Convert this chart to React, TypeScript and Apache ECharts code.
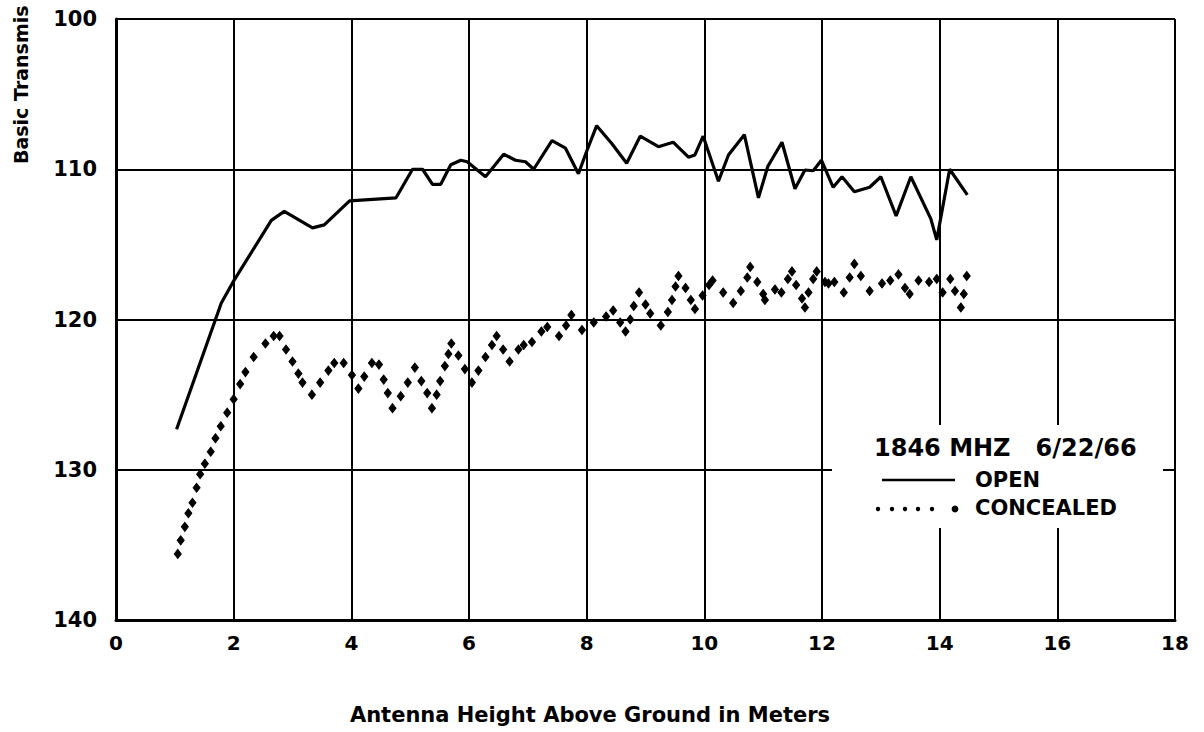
import React, { useEffect, useRef } from "react";
import * as echarts from "echarts";

const openHeight = [1.03, 1.79, 1.99, 2.64, 2.86, 3.34, 3.54, 3.97, 4.76, 5.04, 5.21, 5.38, 5.52, 5.69, 5.86, 5.97, 6.28, 6.59, 6.79, 6.96, 7.10, 7.41, 7.64, 7.86, 8.0, 8.17, 8.43, 8.68, 8.91, 9.22, 9.47, 9.73, 9.84, 9.98, 10.24, 10.41, 10.68, 10.92, 11.08, 11.32, 11.54, 11.71, 11.85, 11.99, 12.19, 12.34, 12.55, 12.81, 13.0, 13.26, 13.51, 13.85, 13.95, 14.17, 14.47];
const openLoss = [127.3, 118.9, 117.5, 113.4, 112.8, 113.9, 113.7, 112.1, 111.9, 110.0, 110.0, 111.0, 111.0, 109.7, 109.4, 109.5, 110.5, 109.0, 109.4, 109.5, 110.0, 108.1, 108.6, 110.3, 108.8, 107.1, 108.3, 109.6, 107.8, 108.5, 108.2, 109.2, 109.05, 107.8, 110.8, 109.05, 107.7, 111.9, 109.8, 108.2, 111.3, 110.05, 110.1, 109.4, 111.2, 110.5, 111.5, 111.2, 110.5, 113.1, 110.5, 113.3, 114.7, 110.0, 111.7];

const concealedHeight = [1.05, 1.10, 1.17, 1.23, 1.30, 1.37, 1.43, 1.51, 1.61, 1.69, 1.78, 1.89, 2.00, 2.11, 2.20, 2.34, 2.54, 2.68, 2.78, 2.89, 3.00, 3.10, 3.17, 3.33, 3.47, 3.61, 3.71, 3.87, 4.01, 4.12, 4.22, 4.35, 4.47, 4.55, 4.62, 4.70, 4.84, 4.96, 5.08, 5.19, 5.29, 5.37, 5.45, 5.51, 5.59, 5.65, 5.70, 5.82, 5.93, 6.05, 6.16, 6.28, 6.39, 6.47, 6.58, 6.69, 6.84, 6.93, 7.07, 7.23, 7.33, 7.53, 7.65, 7.74, 7.92, 8.12, 8.33, 8.45, 8.57, 8.66, 8.74, 8.80, 8.89, 9.00, 9.08, 9.26, 9.38, 9.45, 9.51, 9.56, 9.68, 9.77, 9.84, 9.97, 10.08, 10.14, 10.32, 10.49, 10.62, 10.73, 10.78, 10.90, 11.00, 11.03, 11.20, 11.31, 11.42, 11.49, 11.56, 11.66, 11.71, 11.77, 11.85, 11.91, 12.05, 12.11, 12.21, 12.37, 12.47, 12.55, 12.66, 12.81, 13.02, 13.16, 13.30, 13.41, 13.49, 13.64, 13.82, 13.95, 14.05, 14.18, 14.26, 14.36, 14.41, 14.46];
const concealedLoss = [135.6, 134.7, 133.8, 132.9, 132.2, 131.2, 130.3, 129.6, 128.8, 127.9, 127.1, 126.2, 125.3, 124.3, 123.5, 122.5, 121.6, 121.1, 121.1, 122.0, 122.8, 123.6, 124.2, 125.0, 124.2, 123.4, 122.9, 122.9, 123.7, 124.6, 123.8, 122.9, 123.0, 124.0, 124.9, 125.9, 125.1, 124.2, 123.2, 124.1, 124.9, 125.9, 125.0, 124.1, 123.1, 122.3, 121.6, 122.4, 123.3, 124.2, 123.4, 122.5, 121.7, 121.1, 122.0, 122.8, 122.0, 121.7, 121.5, 120.8, 120.5, 121.1, 120.4, 119.7, 120.7, 120.2, 119.8, 119.4, 120.2, 120.8, 120.0, 119.1, 118.2, 119.0, 119.6, 120.4, 119.5, 118.7, 117.8, 117.1, 117.9, 118.7, 119.3, 118.4, 117.7, 117.4, 118.2, 118.9, 118.1, 117.2, 116.5, 117.5, 118.3, 118.7, 118.0, 118.2, 117.3, 116.8, 117.7, 118.6, 119.2, 118.2, 117.3, 116.8, 117.5, 117.6, 117.5, 118.2, 117.2, 116.3, 117.1, 118.1, 117.6, 117.4, 117.0, 117.9, 118.3, 117.4, 117.5, 117.3, 118.2, 117.3, 118.1, 119.2, 118.3, 117.1];

const legendTitle = "1846 MHZ   6/22/66";
const seriesNames = ["OPEN", "CONCEALED"];
const xTitle = "Antenna Height Above Ground in Meters";
// the reference shows this label cut off at the top edge of the page
const yTitle = "Basic Transmis";

const FONT = "DejaVu Sans";

export default function App() {
  const ref = useRef<HTMLDivElement>(null);
  useEffect(() => {
    if (!ref.current) return;
    const chart = echarts.init(ref.current, null, { renderer: "svg" });
    const dotXs = [878, 892, 905, 918, 932];
    chart.setOption({
      animation: false,
      backgroundColor: "#fff",
      grid: { left: 116, right: 29, top: 19, bottom: 112, containLabel: false },
      xAxis: {
        type: "value",
        min: 0,
        max: 18,
        interval: 2,
        axisLine: { show: true, onZero: false, lineStyle: { color: "#000", width: 3 } },
        axisTick: { show: false },
        splitLine: { show: true, lineStyle: { color: "#000", width: 2 } },
        axisLabel: { color: "#000", fontSize: 20, fontWeight: "bold", fontFamily: FONT, margin: 13 },
      },
      yAxis: {
        type: "value",
        inverse: true,
        min: 100,
        max: 140,
        interval: 10,
        axisLine: { show: true, onZero: false, lineStyle: { color: "#000", width: 3 } },
        axisTick: { show: false },
        splitLine: { show: true, lineStyle: { color: "#000", width: 2 } },
        axisLabel: { color: "#000", fontSize: 21, fontWeight: "bold", fontFamily: FONT, margin: 19 },
      },
      series: [
        {
          name: seriesNames[0],
          type: "line",
          data: openHeight.map((x, i) => [x, openLoss[i]]),
          symbol: "none",
          lineStyle: { color: "#000", width: 3.2 },
          z: 3,
        },
        {
          name: seriesNames[1],
          type: "scatter",
          data: concealedHeight.map((x, i) => [x, concealedLoss[i]]),
          symbol: "diamond",
          symbolSize: [7, 9],
          itemStyle: { color: "#000", borderColor: "#000", borderWidth: 1, opacity: 1 },
          z: 3,
        },
      ],
      graphic: [
        {
          type: "rect",
          z: 10,
          shape: { x: 832, y: 425, width: 331, height: 103 },
          style: { fill: "#fff" },
        },
        {
          type: "text",
          z: 11,
          x: 874,
          y: 448,
          style: { text: legendTitle, fill: "#000", font: `bold 24px "${FONT}"`, textVerticalAlign: "middle", textAlign: "left" },
        },
        {
          type: "line",
          z: 11,
          shape: { x1: 882, y1: 480, x2: 955, y2: 480 },
          style: { stroke: "#000", lineWidth: 2.5 },
        },
        {
          type: "text",
          z: 11,
          x: 975,
          y: 480,
          style: { text: seriesNames[0], fill: "#000", font: `bold 21px "${FONT}"`, textVerticalAlign: "middle", textAlign: "left" },
        },
        ...dotXs.map((dx) => ({
          type: "circle",
          z: 11,
          shape: { cx: dx, cy: 509, r: 2.2 },
          style: { fill: "#000" },
        })),
        {
          type: "circle",
          z: 11,
          shape: { cx: 955, cy: 509, r: 3.4 },
          style: { fill: "#000" },
        },
        {
          type: "text",
          z: 11,
          x: 975,
          y: 508,
          style: { text: seriesNames[1], fill: "#000", font: `bold 21px "${FONT}"`, textVerticalAlign: "middle", textAlign: "left" },
        },
        {
          type: "text",
          z: 11,
          x: 590,
          y: 715,
          style: { text: xTitle, fill: "#000", font: `bold 21px "${FONT}"`, textVerticalAlign: "middle", textAlign: "center" },
        },
        {
          type: "text",
          z: 11,
          x: 21,
          y: 164,
          rotation: Math.PI / 2,
          style: { text: yTitle, fill: "#000", font: `bold 19px "${FONT}"`, textVerticalAlign: "middle", textAlign: "left" },
        },
      ],
    });
    return () => chart.dispose();
  }, []);
  return (
    <div
      ref={ref}
      style={{ position: "fixed", left: 0, top: 0, width: 1204, height: 732, background: "#fff" }}
    />
  );
}
